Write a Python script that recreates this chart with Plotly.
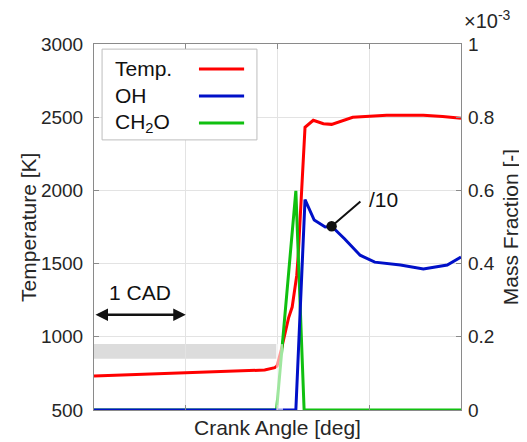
import plotly.graph_objects as go

# ---- data (crank angle in CAD, relative) ----
temp_x = [0.0, 0.5, 1.0, 1.37, 1.86, 1.97, 1.995, 2.04, 2.08, 2.12, 2.16, 2.19, 2.21, 2.225, 2.30, 2.39, 2.50, 2.59, 2.82, 3.19, 3.59, 3.80, 4.0]
temp_k = [732, 742, 752, 761, 773, 789, 800, 909, 1025, 1128, 1203, 1319, 1421, 1550, 2431, 2479, 2455, 2451, 2499, 2513, 2513, 2505, 2492]

oh_x = [0.0, 2.20, 2.30, 2.40, 2.52, 2.59, 2.73, 2.90, 3.06, 3.34, 3.59, 3.85, 4.0]
oh_frac = [0, 0, 0.575, 0.519, 0.50, 0.502, 0.468, 0.423, 0.404, 0.396, 0.385, 0.396, 0.418]

ch2o_x = [0.0, 1.99, 2.20, 2.29, 4.0]
ch2o_frac = [0, 0, 0.599, 0, 0]

band_x = [0.0, 1.99]
band_t = [850, 950]
cad_span = [0, 1]
cad_level = 1150

left_ticks = [500, 1000, 1500, 2000, 2500, 3000]
right_ticks = [0, 0.2, 0.4, 0.6, 0.8, 1.0]
right_labels = ["0", "0.2", "0.4", "0.6", "0.8", "1"]

series_names = ["Temp.", "OH", "CH<sub>2</sub>O"]
series_colors = ["#ff0000", "#0010c8", "#10c010"]

FONT = "Liberation Sans, Arial, sans-serif"
TXT = "#262626"

fig = go.Figure()
fig.add_trace(go.Scatter(x=temp_x, y=temp_k, mode="lines", line=dict(color=series_colors[0], width=3),
                         yaxis="y", showlegend=False))
fig.add_trace(go.Scatter(x=ch2o_x, y=ch2o_frac, mode="lines", line=dict(color=series_colors[2], width=3),
                         yaxis="y2", showlegend=False))
fig.add_trace(go.Scatter(x=oh_x, y=oh_frac, mode="lines", line=dict(color=series_colors[1], width=3),
                         yaxis="y2", showlegend=False))

shapes = [
    dict(type="rect", xref="x", yref="y", x0=band_x[0], x1=band_x[1], y0=band_t[0], y1=band_t[1],
         fillcolor="#dcdcdc", line=dict(width=0), layer="below"),
    dict(type="rect", xref="x", yref="y", x0=1.985, x1=2.06, y0=500, y1=950,
         fillcolor="white", opacity=0.6, line=dict(width=0), layer="above"),
]

# manual legend (text left, line right)
leg_x0, leg_x1, leg_y0, leg_y1 = 0.022, 0.444, 0.738, 0.986
shapes.append(dict(type="rect", xref="paper", yref="paper", x0=leg_x0, x1=leg_x1, y0=leg_y0, y1=leg_y1,
                   fillcolor="white", line=dict(color="#bdbdbd", width=1), layer="above"))
annotations = []
row_y = [0.932, 0.858, 0.784]
for name, col, ry in zip(series_names, series_colors, row_y):
    shapes.append(dict(type="line", xref="paper", yref="paper", x0=0.286, x1=0.409, y0=ry, y1=ry,
                       line=dict(color=col, width=3), layer="above"))
    annotations.append(dict(xref="paper", yref="paper", x=0.052, y=ry, text=name, showarrow=False,
                            xanchor="left", yanchor="middle", font=dict(family=FONT, size=21, color="#111")))

# 1 CAD arrow
annotations.append(dict(x=cad_span[1], y=cad_level, xref="x", yref="y", ax=cad_span[0], ay=cad_level,
                        axref="x", ayref="y", text="", showarrow=True, arrowside="end+start",
                        arrowhead=2, arrowsize=1, arrowwidth=2.5, arrowcolor="#111"))
annotations.append(dict(x=sum(cad_span) / 2, y=1300, xref="x", yref="y", text="1 CAD", showarrow=False,
                        font=dict(family=FONT, size=21, color="#111")))

# /10 pointer to OH curve
annotations.append(dict(x=oh_x[5], y=oh_frac[5], xref="x", yref="y2", ax=2.92, ay=0.573,
                        axref="x", ayref="y2", text="", showarrow=True, arrowhead=6, arrowsize=1.3,
                        arrowwidth=2, arrowcolor="#111"))
annotations.append(dict(x=2.98, y=0.575, xref="x", yref="y2", text="/10", showarrow=False,
                        xanchor="left", yanchor="middle", font=dict(family=FONT, size=21, color="#111")))

# axis titles
annotations.append(dict(xref="paper", yref="paper", x=-0.18, y=0.5, text="Temperature [K]", textangle=-90,
                        xanchor="center", yanchor="middle",
                        showarrow=False, font=dict(family=FONT, size=21, color=TXT)))
annotations.append(dict(xref="paper", yref="paper", x=1.134, y=0.5, text="Mass Fraction [-]", textangle=-90,
                        xanchor="center", yanchor="middle",
                        showarrow=False, font=dict(family=FONT, size=21, color=TXT)))
annotations.append(dict(xref="paper", yref="paper", x=0.5, y=-0.049, text="Crank Angle [deg]",
                        showarrow=False, xanchor="center", yanchor="middle", font=dict(family=FONT, size=21, color=TXT)))
annotations.append(dict(xref="paper", yref="paper", x=1.003, y=1.026, text="×10<sup>-3</sup>",
                        showarrow=False, xanchor="left", yanchor="bottom", font=dict(family=FONT, size=20, color=TXT)))

# page body has an 8px default margin: size the figure so the plot lands where the reference has it
fig.update_layout(
    width=519, height=434,
    margin=dict(l=86, r=66, t=36, b=32),
    paper_bgcolor="white", plot_bgcolor="white",
    font=dict(family=FONT, size=19, color=TXT),
    showlegend=False,
    xaxis=dict(range=[0, 4], dtick=1, showticklabels=False, showgrid=True, gridcolor="#e3e3e3",
               showline=True, mirror="ticks", linecolor="#8a8a8a", linewidth=1,
               ticks="inside", ticklen=5, tickcolor="#8a8a8a", zeroline=False),
    yaxis=dict(range=[500, 3000], tickvals=left_ticks, showgrid=True, gridcolor="#e3e3e3",
               showline=True, mirror="ticks", linecolor="#8a8a8a", linewidth=1,
               ticks="inside", ticklen=5, tickcolor="#8a8a8a", zeroline=False,
               ticklabelstandoff=6, tickfont=dict(size=19)),
    yaxis2=dict(range=[0, 1], overlaying="y", side="right", tickvals=right_ticks, ticktext=right_labels,
                showgrid=False, showline=False, ticks="inside", ticklen=5, tickcolor="#8a8a8a",
                zeroline=False, ticklabelstandoff=6, tickfont=dict(size=19)),
    shapes=shapes,
    annotations=annotations,
)

fig.write_html("out.html")
